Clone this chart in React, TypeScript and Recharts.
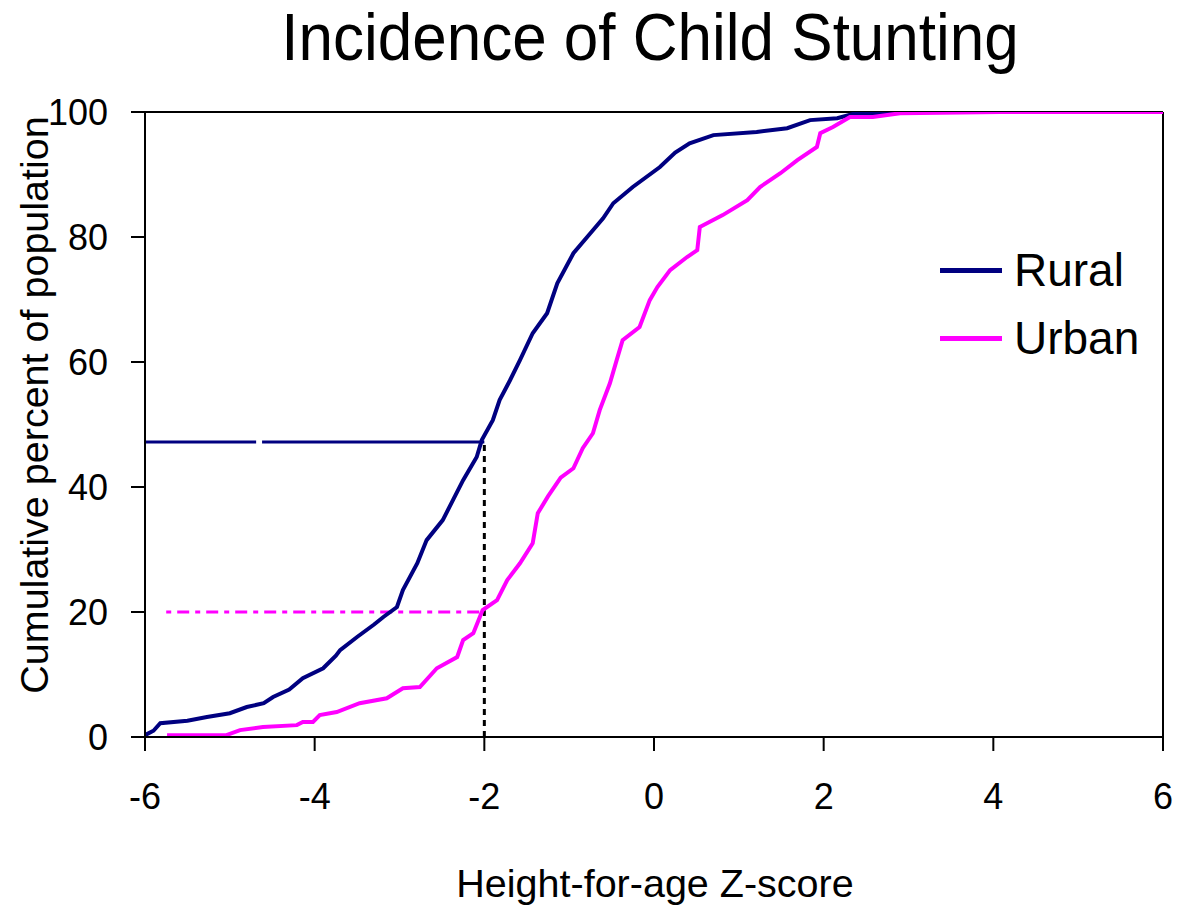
import { ComposedChart, Line, XAxis, YAxis, ReferenceLine, Legend } from 'recharts';

const FONT = '"Liberation Sans", Arial, sans-serif';
const NAVY = '#000080';
const MAGENTA = '#FF00FF';

const xTicks = [-6, -4, -2, 0, 2, 4, 6];
const yTicks = [0, 20, 40, 60, 80, 100];

// cumulative percent by z-score
const rural = [
  { x: -6, y: 0.3 }, { x: -5.9, y: 1 }, { x: -5.82, y: 2.2 }, { x: -5.5, y: 2.6 },
  { x: -5.27, y: 3.2 }, { x: -5.0, y: 3.8 }, { x: -4.8, y: 4.8 }, { x: -4.6, y: 5.4 },
  { x: -4.49, y: 6.4 }, { x: -4.3, y: 7.6 }, { x: -4.14, y: 9.4 }, { x: -3.9, y: 11 },
  { x: -3.75, y: 13 }, { x: -3.7, y: 13.9 }, { x: -3.5, y: 16 }, { x: -3.3, y: 18 },
  { x: -3.19, y: 19.2 }, { x: -3.03, y: 20.8 }, { x: -2.96, y: 23.5 }, { x: -2.79, y: 27.8 },
  { x: -2.68, y: 31.5 }, { x: -2.49, y: 34.7 }, { x: -2.37, y: 37.9 }, { x: -2.25, y: 41.1 },
  { x: -2.09, y: 44.8 }, { x: -2.03, y: 47.5 }, { x: -1.9, y: 50.7 }, { x: -1.82, y: 53.9 },
  { x: -1.7, y: 57 }, { x: -1.58, y: 60.3 }, { x: -1.43, y: 64.6 }, { x: -1.26, y: 67.8 },
  { x: -1.14, y: 72.6 }, { x: -0.95, y: 77.4 }, { x: -0.75, y: 80.6 }, { x: -0.6, y: 83 },
  { x: -0.48, y: 85.4 }, { x: -0.25, y: 88 }, { x: 0.07, y: 91.2 }, { x: 0.25, y: 93.5 },
  { x: 0.42, y: 95 }, { x: 0.7, y: 96.3 }, { x: 1.21, y: 96.8 }, { x: 1.57, y: 97.4 },
  { x: 1.84, y: 98.7 }, { x: 2.16, y: 99 }, { x: 2.35, y: 99.7 }, { x: 3.0, y: 100 },
  { x: 3.4, y: 100 },
];

const urban = [
  { x: -5.74, y: 0.3 }, { x: -5.04, y: 0.3 }, { x: -4.88, y: 1.1 }, { x: -4.61, y: 1.6 },
  { x: -4.21, y: 1.9 }, { x: -4.14, y: 2.4 }, { x: -4.02, y: 2.4 }, { x: -3.94, y: 3.5 },
  { x: -3.74, y: 4.0 }, { x: -3.47, y: 5.4 }, { x: -3.15, y: 6.2 }, { x: -2.96, y: 7.8 },
  { x: -2.76, y: 8.0 }, { x: -2.56, y: 11 }, { x: -2.32, y: 12.8 }, { x: -2.25, y: 15.5 },
  { x: -2.13, y: 16.6 }, { x: -2.02, y: 20.3 }, { x: -1.85, y: 21.9 }, { x: -1.73, y: 25.1 },
  { x: -1.58, y: 27.8 }, { x: -1.43, y: 31 }, { x: -1.37, y: 35.8 }, { x: -1.25, y: 38.5 },
  { x: -1.1, y: 41.5 }, { x: -0.95, y: 43 }, { x: -0.84, y: 46.2 }, { x: -0.72, y: 48.6 },
  { x: -0.64, y: 52.3 }, { x: -0.52, y: 56.6 }, { x: -0.44, y: 60.3 }, { x: -0.37, y: 63.5 },
  { x: -0.17, y: 65.6 }, { x: -0.05, y: 69.9 }, { x: 0.04, y: 72 }, { x: 0.19, y: 74.7 },
  { x: 0.39, y: 76.8 }, { x: 0.51, y: 77.9 }, { x: 0.54, y: 81.6 }, { x: 0.81, y: 83.5 },
  { x: 1.1, y: 85.9 }, { x: 1.25, y: 88 }, { x: 1.49, y: 90.2 }, { x: 1.69, y: 92.3 },
  { x: 1.92, y: 94.4 }, { x: 1.96, y: 96.6 }, { x: 2.11, y: 97.6 }, { x: 2.31, y: 99.2 },
  { x: 2.58, y: 99.2 }, { x: 2.9, y: 99.8 }, { x: 4.08, y: 100 }, { x: 6, y: 100 },
];

// stunting cut-off and the shares below it
const cutoff = -2;
const ruralShare = 47.2;
const urbanShare = 20;
const urbanGuideStart = -5.75;

const renderLegend = (props: any) => (
  <div style={{ fontFamily: FONT }}>
    {props.payload.map((p: any) => (
      <div key={p.value} style={{ display: 'flex', alignItems: 'center', height: 68 }}>
        <div style={{ width: 62, height: 5, background: p.color, marginRight: 12 }} />
        <span style={{ fontSize: 46, color: '#000', lineHeight: 1 }}>{p.value}</span>
      </div>
    ))}
  </div>
);

export default function App() {
  return (
    <div style={{ position: 'absolute', left: 0, top: 0, width: 1186, height: 909, background: '#fff', fontFamily: FONT }}>
      <div
        style={{
          position: 'absolute', left: 0, width: 1300, top: 0, textAlign: 'center',
          fontSize: 62, lineHeight: '76px', transform: 'scaleY(1.07)', transformOrigin: '50% 50%',
        }}
      >
        Incidence of Child Stunting
      </div>
      <ComposedChart width={1186} height={909} margin={{ top: 112, right: 23, bottom: 92, left: 0 }}>
        <XAxis
          type="number"
          dataKey="x"
          domain={[-6, 6]}
          ticks={xTicks}
          allowDataOverflow
          height={80}
          tickSize={14}
          tickMargin={32}
          axisLine={{ stroke: '#000', strokeWidth: 2 }}
          tickLine={{ stroke: '#000', strokeWidth: 2 }}
          tick={{ fontSize: 36, fill: '#000', fontFamily: FONT }}
          label={(p: any) => (
            <text x={655} y={897} textAnchor="middle" fontSize={39.5} fontFamily={FONT} fill="#000">
              Height-for-age Z-score
            </text>
          )}
        />
        <YAxis
          type="number"
          domain={[0, 100]}
          ticks={yTicks}
          allowDataOverflow
          width={145}
          tickSize={14}
          tickMargin={23}
          axisLine={{ stroke: '#000', strokeWidth: 2 }}
          tickLine={{ stroke: '#000', strokeWidth: 2 }}
          tick={{ fontSize: 36, fill: '#000', fontFamily: FONT }}
          label={(p: any) => (
            <text x={48} y={405} textAnchor="middle" fontSize={39.5} fontFamily={FONT} fill="#000" transform="rotate(-90 48 405)">
              Cumulative percent of population
            </text>
          )}
        />
        <ReferenceLine y={100} stroke="#000" strokeWidth={2} />
        <ReferenceLine x={6} stroke="#000" strokeWidth={2} />
        <ReferenceLine segment={[{ x: -6, y: ruralShare }, { x: -4.69, y: ruralShare }]} stroke={NAVY} strokeWidth={3} />
        <ReferenceLine segment={[{ x: -4.62, y: ruralShare }, { x: cutoff, y: ruralShare }]} stroke={NAVY} strokeWidth={3} />
        <ReferenceLine
          segment={[{ x: urbanGuideStart, y: urbanShare }, { x: cutoff, y: urbanShare }]}
          stroke={MAGENTA}
          strokeWidth={3}
          strokeDasharray="5 6 12 6"
        />
        <ReferenceLine
          segment={[{ x: cutoff, y: 0 }, { x: cutoff, y: ruralShare }]}
          stroke="#000"
          strokeWidth={3}
          strokeDasharray="6 5"
        />
        <Line data={rural} dataKey="y" name="Rural" type="linear" stroke={NAVY} strokeWidth={4} dot={false} isAnimationActive={false} />
        <Line data={urban} dataKey="y" name="Urban" type="linear" stroke={MAGENTA} strokeWidth={4} dot={false} isAnimationActive={false} />
        <Legend
          layout="vertical"
          verticalAlign="middle"
          align="center"
          content={renderLegend}
          wrapperStyle={{ left: 940, top: 236, width: 230 }}
        />
      </ComposedChart>
    </div>
  );
}
